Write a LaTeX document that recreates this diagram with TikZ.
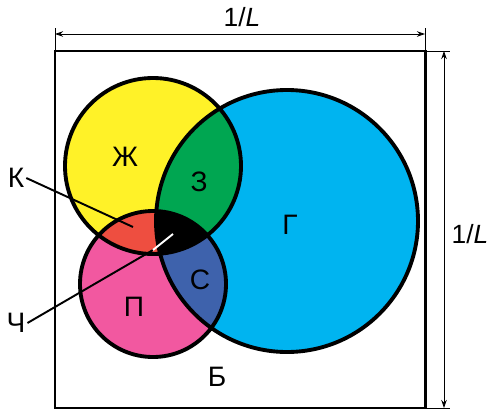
\documentclass[tikz,border=0pt]{standalone}
\usepackage{fontspec}
\setmainfont{Liberation Sans}
\usetikzlibrary{arrows.meta}
\definecolor{zhyel}{RGB}{255,242,40}
\definecolor{zgreen}{RGB}{0,166,81}
\definecolor{gblue}{RGB}{0,180,240}
\definecolor{ppink}{RGB}{242,88,160}
\definecolor{kred}{RGB}{238,78,64}
\definecolor{sblue}{RGB}{62,98,172}
\tikzset{
  circ/.style={line width=2.2pt},
  lbl/.style={font=\fontsize{16}{18}\selectfont,inner sep=1pt},
  dlbl/.style={font=\fontsize{15}{18}\selectfont,inner sep=1pt},
  dim/.style={{Stealth[length=1.6mm,width=1.1mm]}-{Stealth[length=1.6mm,width=1.1mm]},line width=0.5pt},
  ext/.style={line width=0.5pt},
  lead/.style={line width=1.1pt},
}
\begin{document}
\begin{tikzpicture}[x=0.02cm,y=-0.02cm]
  \useasboundingbox (0,0) rectangle (500,419);
  \coordinate (Y) at (153,166); \def\ry{88}
  \coordinate (G) at (287,221); \def\rg{131}
  \coordinate (P) at (153,284); \def\rp{73}
  % single circles
  \fill[zhyel] (Y) circle (\ry);
  \fill[gblue] (G) circle (\rg);
  \fill[ppink] (P) circle (\rp);
  % overlaps
  \begin{scope}
    \clip (Y) circle (\ry);
    \fill[zgreen] (G) circle (\rg);
    \fill[kred] (P) circle (\rp);
    \clip (G) circle (\rg);
    \fill[black] (P) circle (\rp);
  \end{scope}
  \begin{scope}
    \clip (P) circle (\rp);
    \clip (G) circle (\rg);
    \fill[sblue] (G) circle (\rg);
    \clip (Y) circle (\ry);
    \fill[black] (P) circle (\rp);
  \end{scope}
  \draw[circ] (Y) circle (\ry) (G) circle (\rg) (P) circle (\rp);
  % frame and dimensions
  \draw[line width=1.7pt] (55,51) rectangle (425,408);
  \draw[ext] (55,28) -- (55,51) (425,28) -- (425,51);
  \draw[ext] (425,51) -- (450,51) (425,408) -- (450,408);
  \draw[dim] (55,34) -- (425,34);
  \draw[dim] (444,51) -- (444,408);
  \node[dlbl] (top) at (242,17) {1/\textit{L}};
  \node[dlbl] (side) at (470,234) {1/\textit{L}};
  % region labels
  \node[lbl] (zh) at (125,157) {Ж};
  \node[lbl] (z) at (199,182) {З};
  \node[lbl] (g) at (290,225) {Г};
  \node[lbl] (p) at (134,307) {П};
  \node[lbl] (s) at (200,280) {С};
  \node[lbl] (b) at (217,377) {Б};
  \node[lbl] (k) at (16,178) {К};
  \node[lbl] (ch) at (16,323) {Ч};
  % leaders
  \coordinate (kend) at (133,227);
  \coordinate (chmid) at (153,250);
  \coordinate (chend) at (173,234);
  \draw[lead] (k.east) -- (kend);
  \draw[lead] (ch.east) -- (chmid);
  \draw[lead,white] (chmid) -- (chend);
\end{tikzpicture}
\end{document}
